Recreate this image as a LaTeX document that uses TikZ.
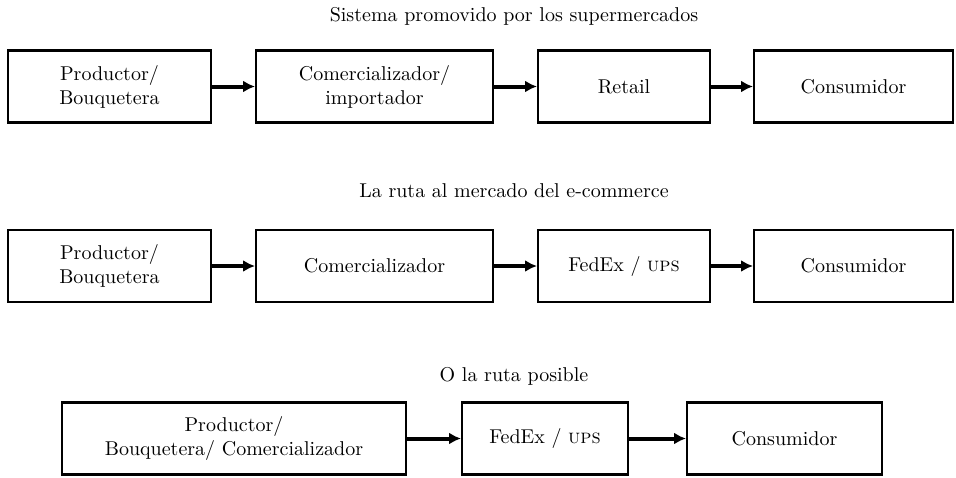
\documentclass[tikz,border=0pt]{standalone}
\usepackage{amsmath, amssymb}
\usetikzlibrary{positioning,arrows.meta}

\tikzset{
  etapa/.style={draw, line width=1.2pt, align=center, minimum height=36pt, inner sep=0pt},
  flecha/.style={line width=2pt, -{Latex[length=6pt,width=6pt]}},
  titulo/.style={anchor=base, inner sep=0pt}
}

\begin{document}
\begin{tikzpicture}
    \useasboundingbox (0,0) rectangle (478pt,-238.5pt);
    % sistema de los supermercados
    \node[titulo] (t1) at (257pt,-10.5pt) {Sistema promovido por los supermercados};
    \node[etapa, minimum width=101.3pt] (p1) at (54.75pt,-43.25pt) {Productor/\\Bouquetera};
    \node[etapa, minimum width=118.3pt] (c1) [right= 21.5pt of p1] {Comercializador/\\importador};
    \node[etapa, minimum width=85.8pt] (r1) [right= 21.5pt of c1] {Retail};
    \node[etapa, minimum width=99.3pt] (k1) [right= 21pt of r1] {Consumidor};
    \draw[flecha] (p1) -- (c1);
    \draw[flecha] (c1) -- (r1);
    \draw[flecha] (r1) -- (k1);
    % ruta del e-commerce
    \node[titulo] (t2) at (257pt,-98.5pt) {La ruta al mercado del e-commerce};
    \node[etapa, minimum width=101.3pt] (p2) at (54.75pt,-133pt) {Productor/\\Bouquetera};
    \node[etapa, minimum width=118.3pt] (c2) [right= 21.5pt of p2] {Comercializador};
    \node[etapa, minimum width=85.8pt] (f2) [right= 21.5pt of c2] {FedEx / \textsc{ups}};
    \node[etapa, minimum width=99.3pt] (k2) [right= 21pt of f2] {Consumidor};
    \draw[flecha] (p2) -- (c2);
    \draw[flecha] (c2) -- (f2);
    \draw[flecha] (f2) -- (k2);
    % ruta posible
    \node[titulo] (t3) at (257pt,-190.5pt) {O la ruta posible};
    \node[etapa, minimum width=171.8pt] (p3) at (117pt,-219.25pt) {Productor/\\Bouquetera/ Comercializador};
    \node[etapa, minimum width=82.8pt] (f3) [right= 27pt of p3] {FedEx / \textsc{ups}};
    \node[etapa, minimum width=97.3pt] (k3) [right= 28.5pt of f3] {Consumidor};
    \draw[flecha] (p3) -- (f3);
    \draw[flecha] (f3) -- (k3);
\end{tikzpicture}
\end{document}
